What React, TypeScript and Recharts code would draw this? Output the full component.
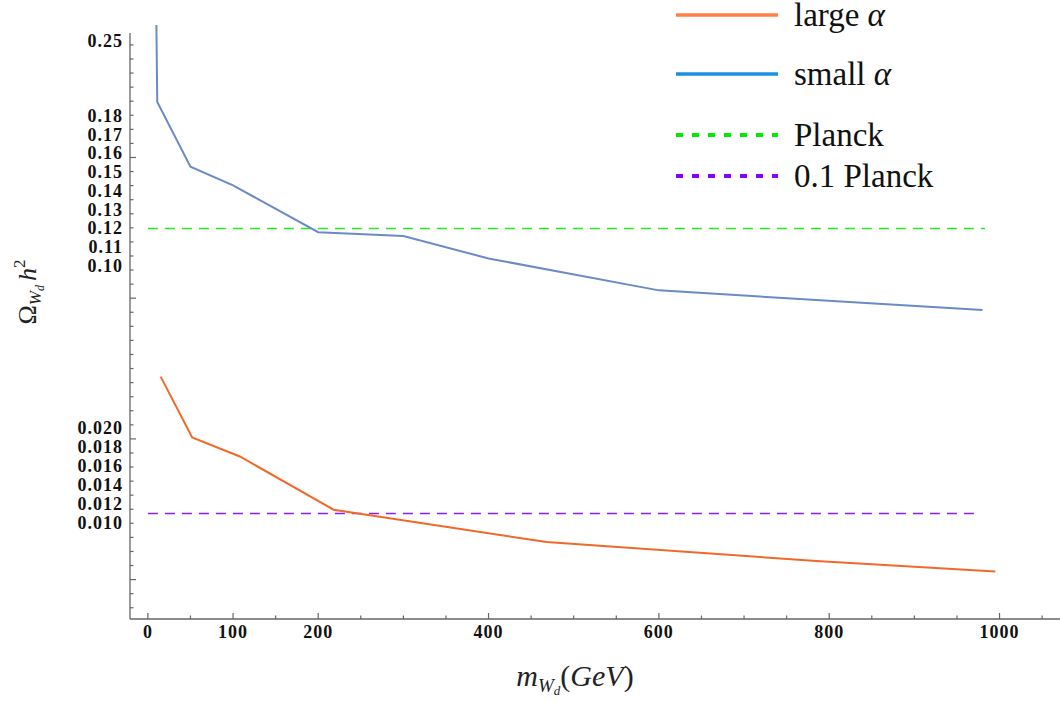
import React from 'react';
import { LineChart, Line, XAxis, YAxis, ReferenceLine, Legend } from 'recharts';

// m_Wd in GeV
const SMALL_X = [10, 11, 50, 100, 200, 300, 400, 600, 980];
const SMALL_Y = [0.265, 0.193, 0.153, 0.143, 0.118, 0.116, 0.104, 0.087, 0.0765];
const LARGE_X = [15, 52, 108, 218, 468, 785, 995];
const LARGE_Y = [0.0254, 0.019, 0.017, 0.0114, 0.008, 0.006, 0.0049];

const PLANCK = 0.12;
const PLANCK_TENTH = 0.011;
const PLANCK_X = [0, 983];
const PLANCK_TENTH_X = [0, 975];

const Y_LABELS_UPPER = [0.25, 0.18, 0.17, 0.16, 0.15, 0.14, 0.13, 0.12, 0.11, 0.1];
const Y_LABELS_LOWER = [0.02, 0.018, 0.016, 0.014, 0.012, 0.01];
const X_LABELS = [0, 100, 200, 400, 600, 800, 1000];

const LEGEND_ITEMS = [
  { name: 'large', greek: 'α', color: '#ff7f45', dashed: false },
  { name: 'small', greek: 'α', color: '#1b8fe0', dashed: false },
  { name: 'Planck', greek: '', color: '#00ee00', dashed: true },
  { name: '0.1 Planck', greek: '', color: '#8800ff', dashed: true },
];

// broken axis: value -> axis unit, piecewise linear
const Y_SCALE: [number, number][] = [
  [0, 0.07],
  [0.03, 20.33],
  [0.07, 21.09],
  [0.18, 35.75],
  [0.25, 41.08],
];

function toU(v: number) {
  let i = 0;
  while (i < Y_SCALE.length - 2 && v > Y_SCALE[i + 1][0]) i++;
  const [v0, u0] = Y_SCALE[i];
  const [v1, u1] = Y_SCALE[i + 1];
  return u0 + ((v - v0) * (u1 - u0)) / (v1 - v0);
}

const X_MIN = -21;
const X_MAX = 1071;
const U_MAX = 42.5;
const U_AXIS_TOP = 41.65;

const X_TICKS = Array.from({ length: 22 }, (_, i) => i * 50);
const MARK_U = Array.from({ length: 41 }, (_, k) => 40.8 - k);

const labelMap = new Map<number, string>();
Y_LABELS_UPPER.forEach((v) => labelMap.set(toU(v), v.toFixed(2)));
Y_LABELS_LOWER.forEach((v) => labelMap.set(toU(v), v.toFixed(3)));
const Y_TICKS = [...MARK_U, ...labelMap.keys()];

const smallData = SMALL_X.map((x, i) => ({ x, u: toU(SMALL_Y[i]) }));
const largeData = LARGE_X.map((x, i) => ({ x, u: toU(LARGE_Y[i]) }));

const SERIF = '"Liberation Serif", "Times New Roman", serif';
const AXIS = '#666';

function YTick(props: any) {
  const { x, y, payload } = props;
  const label = labelMap.get(payload.value);
  if (label) {
    return (
      <text
        x={x - 7}
        y={y + 6}
        textAnchor="end"
        fontWeight="bold"
        fontSize={18}
        letterSpacing={1}
        fill="#111"
        style={{ fontFamily: SERIF }}
      >
        {label}
      </text>
    );
  }
  const k = Math.round(40.8 - payload.value);
  const len = k % 10 === 8 ? 6 : 3.5;
  return <line x1={x} y1={y} x2={x + len} y2={y} stroke={AXIS} strokeWidth={1.2} />;
}

function XTick(props: any) {
  const { x, y, payload } = props;
  const major = X_LABELS.includes(payload.value);
  return (
    <g>
      <line x1={x} y1={y} x2={x} y2={y - (major ? 6 : 3.5)} stroke={AXIS} strokeWidth={1.2} />
      {major && (
        <text
          x={x}
          y={y + 19}
          textAnchor="middle"
          fontWeight="bold"
          fontSize={18}
          letterSpacing={1}
          fill="#111"
          style={{ fontFamily: SERIF }}
        >
          {payload.value}
        </text>
      )}
    </g>
  );
}

function XTitle() {
  return (
    <text x={575} y={686} textAnchor="middle" fontSize={30} fill="#222" style={{ fontFamily: SERIF }}>
      <tspan fontStyle="italic">m</tspan>
      <tspan fontStyle="italic" fontSize={19} dy={6}>W</tspan>
      <tspan fontStyle="italic" fontSize={13} dy={3}>d</tspan>
      <tspan dy={-9}>(</tspan>
      <tspan fontStyle="italic">GeV</tspan>
      <tspan>)</tspan>
    </text>
  );
}

function YTitle() {
  return (
    <text
      x={36}
      y={292}
      transform="rotate(-90, 36, 292)"
      textAnchor="middle"
      fontSize={26}
      fill="#222"
      style={{ fontFamily: SERIF }}
    >
      <tspan>Ω</tspan>
      <tspan fontStyle="italic" fontSize={17} dy={5}>W</tspan>
      <tspan fontStyle="italic" fontSize={12} dy={3}>d</tspan>
      <tspan fontStyle="italic" dy={-8} dx={4}>h</tspan>
      <tspan fontSize={17} dy={-11}>2</tspan>
    </text>
  );
}

const ROW_Y = [15, 74, 135, 176];

function LegendBox() {
  return (
    <svg width={320} height={200} style={{ fontFamily: SERIF }}>
      {LEGEND_ITEMS.map((item, i) => (
        <g key={item.name}>
          <line
            x1={16}
            x2={118}
            y1={ROW_Y[i]}
            y2={ROW_Y[i]}
            stroke={item.color}
            strokeWidth={item.dashed ? 4 : 3.5}
            strokeDasharray={item.dashed ? '7 9' : undefined}
          />
          <text x={134} y={ROW_Y[i] + 11} fontSize={33} fill="#111" style={{ fontFamily: SERIF }}>
            {item.name}
            {item.greek && <tspan fontStyle="italic"> {item.greek}</tspan>}
          </text>
        </g>
      ))}
    </svg>
  );
}

export default function App() {
  return (
    <div style={{ position: 'absolute', left: 0, top: 0, background: '#fff' }}>
      <LineChart width={1060} height={702} margin={{ top: 21, right: 0, bottom: 0, left: 0 }}>
        <XAxis
          type="number"
          dataKey="x"
          domain={[X_MIN, X_MAX]}
          ticks={X_TICKS}
          interval={0}
          tickSize={0}
          tickMargin={0}
          tickLine={false}
          axisLine={{ stroke: AXIS, strokeWidth: 1.3 }}
          height={83}
          tick={<XTick />}
          label={<XTitle />}
        />
        <YAxis
          type="number"
          dataKey="u"
          domain={[0, U_MAX]}
          ticks={Y_TICKS}
          interval={0}
          tickSize={0}
          tickMargin={0}
          tickLine={false}
          axisLine={false}
          width={130}
          tick={<YTick />}
          label={<YTitle />}
        />
        <ReferenceLine
          segment={[{ x: X_MIN, y: 0 }, { x: X_MIN, y: U_AXIS_TOP }]}
          stroke={AXIS}
          strokeWidth={1.3}
        />
        <ReferenceLine
          segment={[{ x: PLANCK_X[0], y: toU(PLANCK) }, { x: PLANCK_X[1], y: toU(PLANCK) }]}
          stroke="#22ee22"
          strokeWidth={1.3}
          strokeDasharray="10 7"
        />
        <ReferenceLine
          segment={[{ x: PLANCK_TENTH_X[0], y: toU(PLANCK_TENTH) }, { x: PLANCK_TENTH_X[1], y: toU(PLANCK_TENTH) }]}
          stroke="#8a1cff"
          strokeWidth={1.3}
          strokeDasharray="10 7"
        />
        <Line
          data={smallData}
          dataKey="u"
          type="linear"
          stroke="#6a8bc6"
          strokeWidth={2}
          dot={false}
          isAnimationActive={false}
        />
        <Line
          data={largeData}
          dataKey="u"
          type="linear"
          stroke="#f0692a"
          strokeWidth={2}
          dot={false}
          isAnimationActive={false}
        />
        <Legend
          layout="vertical"
          align="center"
          verticalAlign="middle"
          content={<LegendBox />}
          wrapperStyle={{ left: 660, top: 0, width: 320, height: 200 }}
        />
      </LineChart>
    </div>
  );
}
